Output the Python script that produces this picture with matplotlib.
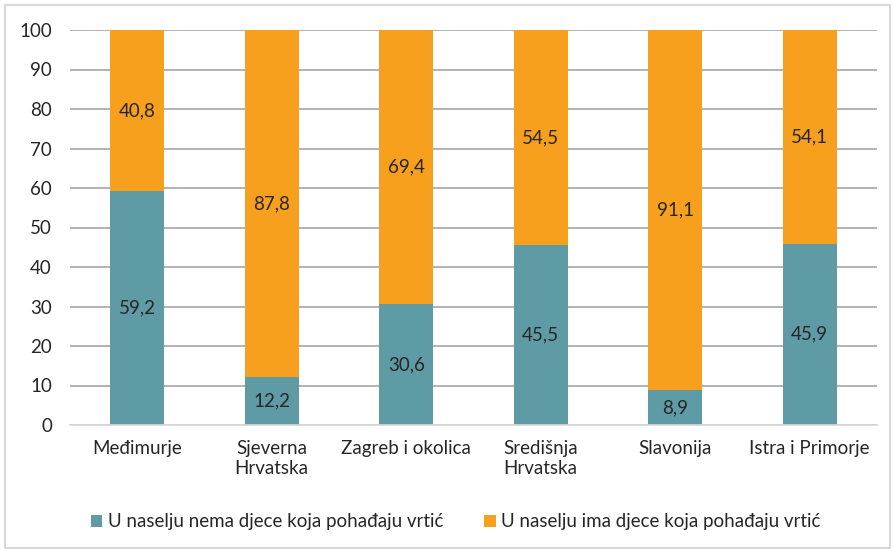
# ==========================================
# LIBRERÍAS
# ==========================================

import numpy as np
import matplotlib.pyplot as plt
from matplotlib.patches import Rectangle

plt.rcParams["font.family"] = ["Lato", "DejaVu Sans"]

# ==========================================
# DATOS
# ==========================================

regije = [
    "Međimurje",
    "Sjeverna\nHrvatska",
    "Zagreb i okolica",
    "Središnja\nHrvatska",
    "Slavonija",
    "Istra i Primorje",
]

nema_djece = [59.2, 12.2, 30.6, 45.5, 8.9, 45.9]
ima_djece = [40.8, 87.8, 69.4, 54.5, 91.1, 54.1]

naziv_nema = "U naselju nema djece koja pohađaju vrtić"
naziv_ima = "U naselju ima djece koja pohađaju vrtić"

boja_nema = "#5F9BA5"
boja_ima = "#F7A01E"
boja_teksta = "#262626"
vel = 13.5

# ==========================================
# FIGURA
# ==========================================

fig = plt.figure(figsize=(8.95, 5.5), dpi=100)
ax = fig.add_axes([70 / 895, 1 - 425 / 550, 807 / 895, 395 / 550])

x = np.arange(len(regije))
sirina = 0.4

ax.bar(x, nema_djece, width=sirina, color=boja_nema, zorder=3,
       label=naziv_nema)
ax.bar(x, ima_djece, width=sirina, bottom=nema_djece, color=boja_ima,
       zorder=3, label=naziv_ima)

for i in range(len(regije)):
    ax.text(x[i], nema_djece[i] / 2, f"{nema_djece[i]:.1f}".replace(".", ","),
            ha="center", va="center", fontsize=vel, color=boja_teksta, zorder=4)
    ax.text(x[i], nema_djece[i] + ima_djece[i] / 2,
            f"{ima_djece[i]:.1f}".replace(".", ","),
            ha="center", va="center", fontsize=vel, color=boja_teksta, zorder=4)

# ==========================================
# OSI
# ==========================================

ax.set_xlim(-0.5, len(regije) - 0.5)
ax.set_ylim(0, 100)
ax.set_yticks(range(0, 101, 10))
ax.set_xticks(x)
ax.set_xticklabels(regije, fontsize=vel, color=boja_teksta, linespacing=1.2)
ax.tick_params(axis="y", length=0, pad=13, labelsize=vel, labelcolor=boja_teksta)
ax.tick_params(axis="x", length=0, pad=11)

ax.grid(axis="y", color="#A6A6A6", linewidth=1.2, zorder=0)
for s in ["top", "right", "left"]:
    ax.spines[s].set_visible(False)
ax.spines["bottom"].set_color("#D9D9D9")
ax.spines["bottom"].set_linewidth(1.2)
ax.spines["bottom"].set_zorder(3)

# ==========================================
# LEGENDA
# ==========================================

ax.legend(loc="center", bbox_to_anchor=(0.478, -0.245), ncol=2, frameon=False,
          fontsize=vel, handlelength=0.6, handleheight=0.6, handletextpad=0.3,
          columnspacing=2.2, labelcolor=boja_teksta)

# okvir
fig.patches.append(Rectangle((5 / 895, 2 / 550), 885 / 895, 543 / 550,
                             transform=fig.transFigure, fill=False,
                             edgecolor="#D9D9D9", linewidth=1.5))

fig.savefig("out.png", dpi=100)
